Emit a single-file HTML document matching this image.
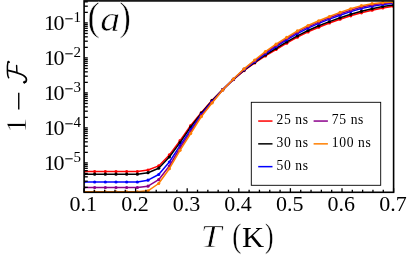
<!DOCTYPE html>
<html><head><meta charset="utf-8"><title>chart</title>
<style>
html,body{margin:0;padding:0;background:#fff;}
body{width:407px;height:260px;position:relative;overflow:hidden;font-family:"Liberation Serif",serif;}
text{font-family:"Liberation Serif",serif;fill:#000;}
.tk{font-size:22px;}
.sup{font-size:15px;}
.lg{font-size:13.6px;letter-spacing:0.62px;}
.yl{font-size:28.8px;}
</style></head><body>
<svg width="407" height="260" viewBox="0 0 407 260" style="position:absolute;left:0;top:0;will-change:transform">
<defs><clipPath id="c"><rect x="84.1" y="0.9" width="309.5" height="191.4"/></clipPath></defs>
<g id="curves" clip-path="url(#c)" fill="none" stroke-linejoin="round">
<polyline points="84.00,171.50 94.67,171.50 105.34,171.50 116.01,171.50 126.68,171.50 137.35,171.50 148.02,170.00 158.69,165.90 169.36,154.90 180.03,140.70 190.70,125.50 201.37,112.60 212.04,100.30 222.71,89.50 233.38,79.60 244.05,70.60 254.72,62.90 265.39,55.90 276.06,49.50 286.73,43.20 297.40,37.20 308.07,31.90 318.74,27.20 329.41,23.00 340.08,19.20 350.75,15.80 361.42,12.80 372.09,10.20 382.76,8.00 393.43,6.25" stroke="#ff0000" stroke-width="1.5"/>
<circle cx="84.00" cy="171.50" r="1.6" fill="#ff0000" stroke="none"/>
<circle cx="94.67" cy="171.50" r="1.6" fill="#ff0000" stroke="none"/>
<circle cx="105.34" cy="171.50" r="1.6" fill="#ff0000" stroke="none"/>
<circle cx="116.01" cy="171.50" r="1.6" fill="#ff0000" stroke="none"/>
<circle cx="126.68" cy="171.50" r="1.6" fill="#ff0000" stroke="none"/>
<circle cx="137.35" cy="171.50" r="1.6" fill="#ff0000" stroke="none"/>
<circle cx="148.02" cy="170.00" r="1.6" fill="#ff0000" stroke="none"/>
<circle cx="158.69" cy="165.90" r="1.6" fill="#ff0000" stroke="none"/>
<circle cx="169.36" cy="154.90" r="1.6" fill="#ff0000" stroke="none"/>
<circle cx="180.03" cy="140.70" r="1.6" fill="#ff0000" stroke="none"/>
<circle cx="190.70" cy="125.50" r="1.6" fill="#ff0000" stroke="none"/>
<circle cx="201.37" cy="112.60" r="1.6" fill="#ff0000" stroke="none"/>
<circle cx="212.04" cy="100.30" r="1.6" fill="#ff0000" stroke="none"/>
<circle cx="222.71" cy="89.50" r="1.6" fill="#ff0000" stroke="none"/>
<circle cx="233.38" cy="79.60" r="1.6" fill="#ff0000" stroke="none"/>
<circle cx="244.05" cy="70.60" r="1.6" fill="#ff0000" stroke="none"/>
<circle cx="254.72" cy="62.90" r="1.6" fill="#ff0000" stroke="none"/>
<circle cx="265.39" cy="55.90" r="1.6" fill="#ff0000" stroke="none"/>
<circle cx="276.06" cy="49.50" r="1.6" fill="#ff0000" stroke="none"/>
<circle cx="286.73" cy="43.20" r="1.6" fill="#ff0000" stroke="none"/>
<circle cx="297.40" cy="37.20" r="1.6" fill="#ff0000" stroke="none"/>
<circle cx="308.07" cy="31.90" r="1.6" fill="#ff0000" stroke="none"/>
<circle cx="318.74" cy="27.20" r="1.6" fill="#ff0000" stroke="none"/>
<circle cx="329.41" cy="23.00" r="1.6" fill="#ff0000" stroke="none"/>
<circle cx="340.08" cy="19.20" r="1.6" fill="#ff0000" stroke="none"/>
<circle cx="350.75" cy="15.80" r="1.6" fill="#ff0000" stroke="none"/>
<circle cx="361.42" cy="12.80" r="1.6" fill="#ff0000" stroke="none"/>
<circle cx="372.09" cy="10.20" r="1.6" fill="#ff0000" stroke="none"/>
<circle cx="382.76" cy="8.00" r="1.6" fill="#ff0000" stroke="none"/>
<circle cx="393.43" cy="6.25" r="1.6" fill="#ff0000" stroke="none"/>
<polyline points="84.00,174.20 94.67,174.20 105.34,174.20 116.01,174.20 126.68,174.20 137.35,174.20 148.02,172.70 158.69,168.20 169.36,157.00 180.03,142.60 190.70,127.00 201.37,113.20 212.04,100.70 222.71,89.60 233.38,79.50 244.05,70.20 254.72,62.40 265.39,55.00 276.06,48.40 286.73,41.90 297.40,35.80 308.07,30.50 318.74,25.80 329.41,21.60 340.08,17.80 350.75,14.30 361.42,11.30 372.09,8.70 382.76,6.50 393.43,5.00" stroke="#000000" stroke-width="1.5"/>
<circle cx="84.00" cy="174.20" r="1.6" fill="#000000" stroke="none"/>
<circle cx="94.67" cy="174.20" r="1.6" fill="#000000" stroke="none"/>
<circle cx="105.34" cy="174.20" r="1.6" fill="#000000" stroke="none"/>
<circle cx="116.01" cy="174.20" r="1.6" fill="#000000" stroke="none"/>
<circle cx="126.68" cy="174.20" r="1.6" fill="#000000" stroke="none"/>
<circle cx="137.35" cy="174.20" r="1.6" fill="#000000" stroke="none"/>
<circle cx="148.02" cy="172.70" r="1.6" fill="#000000" stroke="none"/>
<circle cx="158.69" cy="168.20" r="1.6" fill="#000000" stroke="none"/>
<circle cx="169.36" cy="157.00" r="1.6" fill="#000000" stroke="none"/>
<circle cx="180.03" cy="142.60" r="1.6" fill="#000000" stroke="none"/>
<circle cx="190.70" cy="127.00" r="1.6" fill="#000000" stroke="none"/>
<circle cx="201.37" cy="113.20" r="1.6" fill="#000000" stroke="none"/>
<circle cx="212.04" cy="100.70" r="1.6" fill="#000000" stroke="none"/>
<circle cx="222.71" cy="89.60" r="1.6" fill="#000000" stroke="none"/>
<circle cx="233.38" cy="79.50" r="1.6" fill="#000000" stroke="none"/>
<circle cx="244.05" cy="70.20" r="1.6" fill="#000000" stroke="none"/>
<circle cx="254.72" cy="62.40" r="1.6" fill="#000000" stroke="none"/>
<circle cx="265.39" cy="55.00" r="1.6" fill="#000000" stroke="none"/>
<circle cx="276.06" cy="48.40" r="1.6" fill="#000000" stroke="none"/>
<circle cx="286.73" cy="41.90" r="1.6" fill="#000000" stroke="none"/>
<circle cx="297.40" cy="35.80" r="1.6" fill="#000000" stroke="none"/>
<circle cx="308.07" cy="30.50" r="1.6" fill="#000000" stroke="none"/>
<circle cx="318.74" cy="25.80" r="1.6" fill="#000000" stroke="none"/>
<circle cx="329.41" cy="21.60" r="1.6" fill="#000000" stroke="none"/>
<circle cx="340.08" cy="17.80" r="1.6" fill="#000000" stroke="none"/>
<circle cx="350.75" cy="14.30" r="1.6" fill="#000000" stroke="none"/>
<circle cx="361.42" cy="11.30" r="1.6" fill="#000000" stroke="none"/>
<circle cx="372.09" cy="8.70" r="1.6" fill="#000000" stroke="none"/>
<circle cx="382.76" cy="6.50" r="1.6" fill="#000000" stroke="none"/>
<circle cx="393.43" cy="5.00" r="1.6" fill="#000000" stroke="none"/>
<polyline points="84.00,182.00 94.67,182.00 105.34,182.00 116.01,182.00 126.68,182.00 137.35,182.00 148.02,180.20 158.69,174.50 169.36,162.00 180.03,145.70 190.70,129.70 201.37,114.40 212.04,101.60 222.71,89.80 233.38,79.30 244.05,69.70 254.72,61.60 265.39,53.70 276.06,46.60 286.73,39.80 297.40,33.60 308.07,28.10 318.74,23.40 329.41,19.10 340.08,15.20 350.75,11.60 361.42,8.50 372.09,6.20 382.76,4.50 393.43,3.25" stroke="#0000ff" stroke-width="1.5"/>
<circle cx="84.00" cy="182.00" r="1.6" fill="#0000ff" stroke="none"/>
<circle cx="94.67" cy="182.00" r="1.6" fill="#0000ff" stroke="none"/>
<circle cx="105.34" cy="182.00" r="1.6" fill="#0000ff" stroke="none"/>
<circle cx="116.01" cy="182.00" r="1.6" fill="#0000ff" stroke="none"/>
<circle cx="126.68" cy="182.00" r="1.6" fill="#0000ff" stroke="none"/>
<circle cx="137.35" cy="182.00" r="1.6" fill="#0000ff" stroke="none"/>
<circle cx="148.02" cy="180.20" r="1.6" fill="#0000ff" stroke="none"/>
<circle cx="158.69" cy="174.50" r="1.6" fill="#0000ff" stroke="none"/>
<circle cx="169.36" cy="162.00" r="1.6" fill="#0000ff" stroke="none"/>
<circle cx="180.03" cy="145.70" r="1.6" fill="#0000ff" stroke="none"/>
<circle cx="190.70" cy="129.70" r="1.6" fill="#0000ff" stroke="none"/>
<circle cx="201.37" cy="114.40" r="1.6" fill="#0000ff" stroke="none"/>
<circle cx="212.04" cy="101.60" r="1.6" fill="#0000ff" stroke="none"/>
<circle cx="222.71" cy="89.80" r="1.6" fill="#0000ff" stroke="none"/>
<circle cx="233.38" cy="79.30" r="1.6" fill="#0000ff" stroke="none"/>
<circle cx="244.05" cy="69.70" r="1.6" fill="#0000ff" stroke="none"/>
<circle cx="254.72" cy="61.60" r="1.6" fill="#0000ff" stroke="none"/>
<circle cx="265.39" cy="53.70" r="1.6" fill="#0000ff" stroke="none"/>
<circle cx="276.06" cy="46.60" r="1.6" fill="#0000ff" stroke="none"/>
<circle cx="286.73" cy="39.80" r="1.6" fill="#0000ff" stroke="none"/>
<circle cx="297.40" cy="33.60" r="1.6" fill="#0000ff" stroke="none"/>
<circle cx="308.07" cy="28.10" r="1.6" fill="#0000ff" stroke="none"/>
<circle cx="318.74" cy="23.40" r="1.6" fill="#0000ff" stroke="none"/>
<circle cx="329.41" cy="19.10" r="1.6" fill="#0000ff" stroke="none"/>
<circle cx="340.08" cy="15.20" r="1.6" fill="#0000ff" stroke="none"/>
<circle cx="350.75" cy="11.60" r="1.6" fill="#0000ff" stroke="none"/>
<circle cx="361.42" cy="8.50" r="1.6" fill="#0000ff" stroke="none"/>
<circle cx="372.09" cy="6.20" r="1.6" fill="#0000ff" stroke="none"/>
<circle cx="382.76" cy="4.50" r="1.6" fill="#0000ff" stroke="none"/>
<circle cx="393.43" cy="3.25" r="1.6" fill="#0000ff" stroke="none"/>
<polyline points="84.00,187.50 94.67,187.50 105.34,187.50 116.01,187.50 126.68,187.50 137.35,187.50 148.02,186.20 158.69,179.70 169.36,166.00 180.03,148.00 190.70,131.60 201.37,115.40 212.04,102.30 222.71,89.90 233.38,79.10 244.05,69.20 254.72,60.80 265.39,52.60 276.06,45.40 286.73,38.50 297.40,32.20 308.07,26.70 318.74,22.10 329.41,17.80 340.08,13.80 350.75,10.20 361.42,7.00 372.09,4.90 382.76,3.40 393.43,2.50" stroke="#8b008b" stroke-width="1.5"/>
<circle cx="84.00" cy="187.50" r="1.6" fill="#8b008b" stroke="none"/>
<circle cx="94.67" cy="187.50" r="1.6" fill="#8b008b" stroke="none"/>
<circle cx="105.34" cy="187.50" r="1.6" fill="#8b008b" stroke="none"/>
<circle cx="116.01" cy="187.50" r="1.6" fill="#8b008b" stroke="none"/>
<circle cx="126.68" cy="187.50" r="1.6" fill="#8b008b" stroke="none"/>
<circle cx="137.35" cy="187.50" r="1.6" fill="#8b008b" stroke="none"/>
<circle cx="148.02" cy="186.20" r="1.6" fill="#8b008b" stroke="none"/>
<circle cx="158.69" cy="179.70" r="1.6" fill="#8b008b" stroke="none"/>
<circle cx="169.36" cy="166.00" r="1.6" fill="#8b008b" stroke="none"/>
<circle cx="180.03" cy="148.00" r="1.6" fill="#8b008b" stroke="none"/>
<circle cx="190.70" cy="131.60" r="1.6" fill="#8b008b" stroke="none"/>
<circle cx="201.37" cy="115.40" r="1.6" fill="#8b008b" stroke="none"/>
<circle cx="212.04" cy="102.30" r="1.6" fill="#8b008b" stroke="none"/>
<circle cx="222.71" cy="89.90" r="1.6" fill="#8b008b" stroke="none"/>
<circle cx="233.38" cy="79.10" r="1.6" fill="#8b008b" stroke="none"/>
<circle cx="244.05" cy="69.20" r="1.6" fill="#8b008b" stroke="none"/>
<circle cx="254.72" cy="60.80" r="1.6" fill="#8b008b" stroke="none"/>
<circle cx="265.39" cy="52.60" r="1.6" fill="#8b008b" stroke="none"/>
<circle cx="276.06" cy="45.40" r="1.6" fill="#8b008b" stroke="none"/>
<circle cx="286.73" cy="38.50" r="1.6" fill="#8b008b" stroke="none"/>
<circle cx="297.40" cy="32.20" r="1.6" fill="#8b008b" stroke="none"/>
<circle cx="308.07" cy="26.70" r="1.6" fill="#8b008b" stroke="none"/>
<circle cx="318.74" cy="22.10" r="1.6" fill="#8b008b" stroke="none"/>
<circle cx="329.41" cy="17.80" r="1.6" fill="#8b008b" stroke="none"/>
<circle cx="340.08" cy="13.80" r="1.6" fill="#8b008b" stroke="none"/>
<circle cx="350.75" cy="10.20" r="1.6" fill="#8b008b" stroke="none"/>
<circle cx="361.42" cy="7.00" r="1.6" fill="#8b008b" stroke="none"/>
<circle cx="372.09" cy="4.90" r="1.6" fill="#8b008b" stroke="none"/>
<circle cx="382.76" cy="3.40" r="1.6" fill="#8b008b" stroke="none"/>
<circle cx="393.43" cy="2.50" r="1.6" fill="#8b008b" stroke="none"/>
<polyline points="84.00,191.80 94.67,191.80 105.34,191.80 116.01,191.80 126.68,191.80 137.35,191.80 148.02,190.80 158.69,183.50 169.36,168.70 180.03,150.30 190.70,133.50 201.37,116.60 212.04,103.00 222.71,90.10 233.38,79.00 244.05,68.80 254.72,60.00 265.39,51.60 276.06,44.20 286.73,37.30 297.40,30.90 308.07,25.50 318.74,20.80 329.41,16.50 340.08,12.40 350.75,8.80 361.42,5.70 372.09,3.70 382.76,2.50 393.43,1.90" stroke="#ff7f00" stroke-width="1.5"/>
<circle cx="84.00" cy="191.80" r="1.6" fill="#ff7f00" stroke="none"/>
<circle cx="94.67" cy="191.80" r="1.6" fill="#ff7f00" stroke="none"/>
<circle cx="105.34" cy="191.80" r="1.6" fill="#ff7f00" stroke="none"/>
<circle cx="116.01" cy="191.80" r="1.6" fill="#ff7f00" stroke="none"/>
<circle cx="126.68" cy="191.80" r="1.6" fill="#ff7f00" stroke="none"/>
<circle cx="137.35" cy="191.80" r="1.6" fill="#ff7f00" stroke="none"/>
<circle cx="148.02" cy="190.80" r="1.6" fill="#ff7f00" stroke="none"/>
<circle cx="158.69" cy="183.50" r="1.6" fill="#ff7f00" stroke="none"/>
<circle cx="169.36" cy="168.70" r="1.6" fill="#ff7f00" stroke="none"/>
<circle cx="180.03" cy="150.30" r="1.6" fill="#ff7f00" stroke="none"/>
<circle cx="190.70" cy="133.50" r="1.6" fill="#ff7f00" stroke="none"/>
<circle cx="201.37" cy="116.60" r="1.6" fill="#ff7f00" stroke="none"/>
<circle cx="212.04" cy="103.00" r="1.6" fill="#ff7f00" stroke="none"/>
<circle cx="222.71" cy="90.10" r="1.6" fill="#ff7f00" stroke="none"/>
<circle cx="233.38" cy="79.00" r="1.6" fill="#ff7f00" stroke="none"/>
<circle cx="244.05" cy="68.80" r="1.6" fill="#ff7f00" stroke="none"/>
<circle cx="254.72" cy="60.00" r="1.6" fill="#ff7f00" stroke="none"/>
<circle cx="265.39" cy="51.60" r="1.6" fill="#ff7f00" stroke="none"/>
<circle cx="276.06" cy="44.20" r="1.6" fill="#ff7f00" stroke="none"/>
<circle cx="286.73" cy="37.30" r="1.6" fill="#ff7f00" stroke="none"/>
<circle cx="297.40" cy="30.90" r="1.6" fill="#ff7f00" stroke="none"/>
<circle cx="308.07" cy="25.50" r="1.6" fill="#ff7f00" stroke="none"/>
<circle cx="318.74" cy="20.80" r="1.6" fill="#ff7f00" stroke="none"/>
<circle cx="329.41" cy="16.50" r="1.6" fill="#ff7f00" stroke="none"/>
<circle cx="340.08" cy="12.40" r="1.6" fill="#ff7f00" stroke="none"/>
<circle cx="350.75" cy="8.80" r="1.6" fill="#ff7f00" stroke="none"/>
<circle cx="361.42" cy="5.70" r="1.6" fill="#ff7f00" stroke="none"/>
<circle cx="372.09" cy="3.70" r="1.6" fill="#ff7f00" stroke="none"/>
<circle cx="382.76" cy="2.50" r="1.6" fill="#ff7f00" stroke="none"/>
<circle cx="393.43" cy="1.90" r="1.6" fill="#ff7f00" stroke="none"/>
</g>
<g id="ticks" stroke="#000" stroke-width="1.3" fill="none">
<line x1="84.1" y1="187.36" x2="87.8" y2="187.36"/>
<line x1="84.1" y1="181.20" x2="87.8" y2="181.20"/>
<line x1="84.1" y1="176.83" x2="87.8" y2="176.83"/>
<line x1="84.1" y1="173.44" x2="87.8" y2="173.44"/>
<line x1="84.1" y1="170.66" x2="87.8" y2="170.66"/>
<line x1="84.1" y1="168.32" x2="87.8" y2="168.32"/>
<line x1="84.1" y1="166.29" x2="87.8" y2="166.29"/>
<line x1="84.1" y1="164.50" x2="87.8" y2="164.50"/>
<line x1="84.1" y1="162.90" x2="87.8" y2="162.90"/>
<line x1="84.1" y1="152.36" x2="87.8" y2="152.36"/>
<line x1="84.1" y1="146.20" x2="87.8" y2="146.20"/>
<line x1="84.1" y1="141.83" x2="87.8" y2="141.83"/>
<line x1="84.1" y1="138.44" x2="87.8" y2="138.44"/>
<line x1="84.1" y1="135.66" x2="87.8" y2="135.66"/>
<line x1="84.1" y1="133.32" x2="87.8" y2="133.32"/>
<line x1="84.1" y1="131.29" x2="87.8" y2="131.29"/>
<line x1="84.1" y1="129.50" x2="87.8" y2="129.50"/>
<line x1="84.1" y1="127.90" x2="87.8" y2="127.90"/>
<line x1="84.1" y1="117.36" x2="87.8" y2="117.36"/>
<line x1="84.1" y1="111.20" x2="87.8" y2="111.20"/>
<line x1="84.1" y1="106.83" x2="87.8" y2="106.83"/>
<line x1="84.1" y1="103.44" x2="87.8" y2="103.44"/>
<line x1="84.1" y1="100.66" x2="87.8" y2="100.66"/>
<line x1="84.1" y1="98.32" x2="87.8" y2="98.32"/>
<line x1="84.1" y1="96.29" x2="87.8" y2="96.29"/>
<line x1="84.1" y1="94.50" x2="87.8" y2="94.50"/>
<line x1="84.1" y1="92.90" x2="87.8" y2="92.90"/>
<line x1="84.1" y1="82.36" x2="87.8" y2="82.36"/>
<line x1="84.1" y1="76.20" x2="87.8" y2="76.20"/>
<line x1="84.1" y1="71.83" x2="87.8" y2="71.83"/>
<line x1="84.1" y1="68.44" x2="87.8" y2="68.44"/>
<line x1="84.1" y1="65.66" x2="87.8" y2="65.66"/>
<line x1="84.1" y1="63.32" x2="87.8" y2="63.32"/>
<line x1="84.1" y1="61.29" x2="87.8" y2="61.29"/>
<line x1="84.1" y1="59.50" x2="87.8" y2="59.50"/>
<line x1="84.1" y1="57.90" x2="87.8" y2="57.90"/>
<line x1="84.1" y1="47.36" x2="87.8" y2="47.36"/>
<line x1="84.1" y1="41.20" x2="87.8" y2="41.20"/>
<line x1="84.1" y1="36.83" x2="87.8" y2="36.83"/>
<line x1="84.1" y1="33.44" x2="87.8" y2="33.44"/>
<line x1="84.1" y1="30.66" x2="87.8" y2="30.66"/>
<line x1="84.1" y1="28.32" x2="87.8" y2="28.32"/>
<line x1="84.1" y1="26.29" x2="87.8" y2="26.29"/>
<line x1="84.1" y1="24.50" x2="87.8" y2="24.50"/>
<line x1="84.1" y1="22.90" x2="87.8" y2="22.90"/>
<line x1="84.1" y1="12.36" x2="87.8" y2="12.36"/>
<line x1="84.1" y1="6.20" x2="87.8" y2="6.20"/>
<line x1="84.1" y1="1.83" x2="87.8" y2="1.83"/>
<line x1="84.00" y1="192.3" x2="84.00" y2="188.20000000000002"/>
<line x1="94.32" y1="192.3" x2="94.32" y2="189.70000000000002"/>
<line x1="104.64" y1="192.3" x2="104.64" y2="189.70000000000002"/>
<line x1="114.96" y1="192.3" x2="114.96" y2="189.70000000000002"/>
<line x1="125.28" y1="192.3" x2="125.28" y2="189.70000000000002"/>
<line x1="135.60" y1="192.3" x2="135.60" y2="188.20000000000002"/>
<line x1="145.92" y1="192.3" x2="145.92" y2="189.70000000000002"/>
<line x1="156.24" y1="192.3" x2="156.24" y2="189.70000000000002"/>
<line x1="166.56" y1="192.3" x2="166.56" y2="189.70000000000002"/>
<line x1="176.88" y1="192.3" x2="176.88" y2="189.70000000000002"/>
<line x1="187.20" y1="192.3" x2="187.20" y2="188.20000000000002"/>
<line x1="197.52" y1="192.3" x2="197.52" y2="189.70000000000002"/>
<line x1="207.84" y1="192.3" x2="207.84" y2="189.70000000000002"/>
<line x1="218.16" y1="192.3" x2="218.16" y2="189.70000000000002"/>
<line x1="228.48" y1="192.3" x2="228.48" y2="189.70000000000002"/>
<line x1="238.80" y1="192.3" x2="238.80" y2="188.20000000000002"/>
<line x1="249.12" y1="192.3" x2="249.12" y2="189.70000000000002"/>
<line x1="259.44" y1="192.3" x2="259.44" y2="189.70000000000002"/>
<line x1="269.76" y1="192.3" x2="269.76" y2="189.70000000000002"/>
<line x1="280.08" y1="192.3" x2="280.08" y2="189.70000000000002"/>
<line x1="290.40" y1="192.3" x2="290.40" y2="188.20000000000002"/>
<line x1="300.72" y1="192.3" x2="300.72" y2="189.70000000000002"/>
<line x1="311.04" y1="192.3" x2="311.04" y2="189.70000000000002"/>
<line x1="321.36" y1="192.3" x2="321.36" y2="189.70000000000002"/>
<line x1="331.68" y1="192.3" x2="331.68" y2="189.70000000000002"/>
<line x1="342.00" y1="192.3" x2="342.00" y2="188.20000000000002"/>
<line x1="352.32" y1="192.3" x2="352.32" y2="189.70000000000002"/>
<line x1="362.64" y1="192.3" x2="362.64" y2="189.70000000000002"/>
<line x1="372.96" y1="192.3" x2="372.96" y2="189.70000000000002"/>
<line x1="383.28" y1="192.3" x2="383.28" y2="189.70000000000002"/>
<line x1="393.60" y1="192.3" x2="393.60" y2="188.20000000000002"/>
</g>
<rect id="frame" x="84.1" y="0.9" width="309.5" height="191.4" fill="none" stroke="#000" stroke-width="1.6"/>
<rect id="lgbox" x="251.3" y="102.3" width="129.39999999999998" height="83.00000000000001" fill="#fff" stroke="#000" stroke-width="0.9"/>
<line x1="258.2" y1="121.05" x2="272.5" y2="121.05" stroke="#ff0000" stroke-width="1.5"/>
<text id="lg0" x="276.5" y="124.30" class="lg">25 ns</text>
<line x1="258.2" y1="143.85" x2="272.5" y2="143.85" stroke="#000000" stroke-width="1.5"/>
<text id="lg1" x="276.5" y="147.10" class="lg">30 ns</text>
<line x1="258.2" y1="166.65" x2="272.5" y2="166.65" stroke="#0000ff" stroke-width="1.5"/>
<text id="lg2" x="276.5" y="169.90" class="lg">50 ns</text>
<line x1="313.6" y1="121.05" x2="327.90000000000003" y2="121.05" stroke="#8b008b" stroke-width="1.5"/>
<text id="lg3" x="331.8" y="124.30" class="lg">75 ns</text>
<line x1="313.6" y1="143.85" x2="327.90000000000003" y2="143.85" stroke="#ff7f00" stroke-width="1.5"/>
<text id="lg4" x="331.8" y="147.10" class="lg">100 ns</text>
<text id="x01" x="83.30" y="210.5" class="tk" text-anchor="middle">0.1</text>
<text id="x02" x="134.90" y="210.5" class="tk" text-anchor="middle">0.2</text>
<text id="x03" x="186.50" y="210.5" class="tk" text-anchor="middle">0.3</text>
<text id="x04" x="238.10" y="210.5" class="tk" text-anchor="middle">0.4</text>
<text id="x05" x="289.70" y="210.5" class="tk" text-anchor="middle">0.5</text>
<text id="x06" x="341.30" y="210.5" class="tk" text-anchor="middle">0.6</text>
<text id="x07" x="392.90" y="210.5" class="tk" text-anchor="middle">0.7</text>
<g id="y10_5"><text x="44.0" y="169.80" class="tk">1</text><text x="53.6" y="169.80" class="tk">0</text></g>
<g id="ysup_5"><line x1="65.3" y1="158.80" x2="72.7" y2="158.80" stroke="#000" stroke-width="1.05"/><text x="73.4" y="162.00" class="sup">5</text></g>
<g id="y10_4"><text x="44.0" y="134.80" class="tk">1</text><text x="53.6" y="134.80" class="tk">0</text></g>
<g id="ysup_4"><line x1="65.3" y1="123.80" x2="72.7" y2="123.80" stroke="#000" stroke-width="1.05"/><text x="73.4" y="127.00" class="sup">4</text></g>
<g id="y10_3"><text x="44.0" y="99.80" class="tk">1</text><text x="53.6" y="99.80" class="tk">0</text></g>
<g id="ysup_3"><line x1="65.3" y1="88.80" x2="72.7" y2="88.80" stroke="#000" stroke-width="1.05"/><text x="73.4" y="92.00" class="sup">3</text></g>
<g id="y10_2"><text x="44.0" y="64.80" class="tk">1</text><text x="53.6" y="64.80" class="tk">0</text></g>
<g id="ysup_2"><line x1="65.3" y1="53.80" x2="72.7" y2="53.80" stroke="#000" stroke-width="1.05"/><text x="73.4" y="57.00" class="sup">2</text></g>
<g id="y10_1"><text x="44.0" y="29.80" class="tk">1</text><text x="53.6" y="29.80" class="tk">0</text></g>
<g id="ysup_1"><line x1="65.3" y1="18.80" x2="72.7" y2="18.80" stroke="#000" stroke-width="1.05"/><text x="73.4" y="22.00" class="sup">1</text></g>
<text id="pa1" transform="translate(87.426,30.359) scale(0.973,1.0284)" style="font-size:38px;font-style:normal;stroke:#fff;stroke-width:0.5px">(</text>
<text id="pa_a" transform="translate(100.175,30.75) scale(1.1092,0.9925)" style="font-size:36px;font-style:italic;stroke:#fff;stroke-width:0.6px">a</text>
<text id="pa2" transform="translate(119.412,30.359) scale(0.8919,1.0284)" style="font-size:38px;font-style:normal;stroke:#fff;stroke-width:0.5px">)</text>
<text id="xlT" transform="translate(200.457,247.397) scale(1.2813,1.0577)" style="font-size:29.5px;font-style:italic;stroke:#fff;stroke-width:0.6px">T</text>
<text id="xlp1" transform="translate(232.337,247.238) scale(0.9085,1.1531)" style="font-size:30px;font-style:normal;stroke:#fff;stroke-width:0.3px">(</text>
<text id="xlK" transform="translate(241.891,247.0) scale(1.0385,1.0234)" style="font-size:29.5px;font-style:normal;stroke:#fff;stroke-width:0.0px">K</text>
<text id="xlp2" transform="translate(265.039,247.238) scale(0.8542,1.1531)" style="font-size:30px;font-style:normal;stroke:#fff;stroke-width:0.3px">)</text>
<text id="yl1" transform="translate(26.3,132.5) rotate(-90)" class="yl" style="stroke:#fff;stroke-width:0.45px">1</text>
<line id="ylm" x1="18.75" y1="92.7" x2="18.75" y2="109.5" stroke="#000" stroke-width="1.4"/>
<g id="ylF" fill="none" stroke="#000" stroke-linecap="round" stroke-linejoin="round"><path d="M9.2,62.2 C8.9,61.3 8.2,61.2 7.95,61.9 C7.45,64 7.3,68 7.4,71 C7.5,74.5 7.8,76.6 8.7,77.7" stroke-width="1.5"/><path d="M7.8,70.4 C12,71.2 17,72.5 21,74.2 C24.4,75.6 26.4,77.3 26.4,79.5 C26.4,81.2 25.6,82.3 24.4,82.5" stroke-width="1.75"/><path d="M16.6,65.5 L16.9,72.3" stroke-width="1.45"/><circle cx="24.4" cy="82.2" r="0.95" fill="#000" stroke-width="0.8"/></g>
</svg>
</body></html>
